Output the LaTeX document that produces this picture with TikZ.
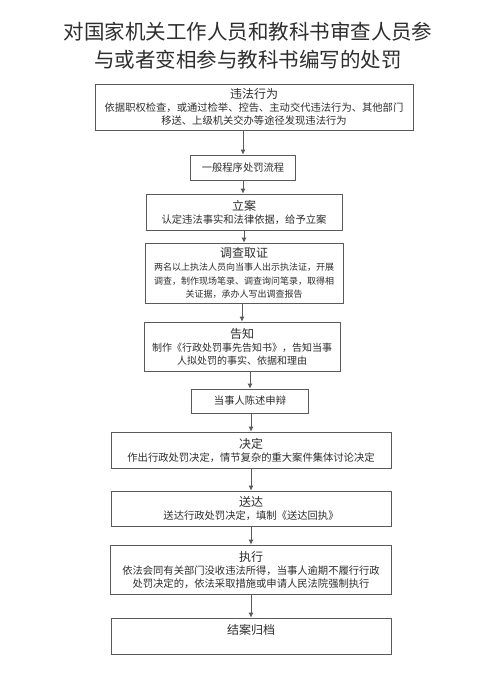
\documentclass[tikz,border=0pt]{standalone}
\usepackage{fontspec}
\setmainfont{Noto Sans CJK SC}
\usepackage{tikz}
\usetikzlibrary{arrows.meta,positioning}
\definecolor{linec}{HTML}{5A5A5A}
\definecolor{textc}{HTML}{2E2E2E}
\tikzset{
  >={Latex[length=5pt,width=5pt]},
  box/.style={draw=linec,line width=0.8pt,fill=white,inner sep=0pt,align=center,text=textc,font=\fontsize{10.3}{13}\selectfont},
  sbox/.style={box,font=\fontsize{9}{13.5}\selectfont},
  ttl/.style={align=center,text=textc,font=\fontsize{20.5}{28}\selectfont},
  arr/.style={->,line width=0.8pt,draw=linec},
}
\newcommand{\hd}[1]{{\fontsize{12}{13}\selectfont #1}}

\begin{document}
\begin{tikzpicture}[x=1pt,y=-1pt]
  \fill[white] (0,0) rectangle (494,675);
  \useasboundingbox (0,0) rectangle (494,675);
  \node[ttl] (title) at (248,46) {对国家机关工作人员和教科书审查人员参\\与或者变相参与教科书编写的处罚};
  % steps
  \node[box,minimum width=318,minimum height=46] (wf) at (254,107)
    {\hd{违法行为}\\依据职权检查，或通过检举、控告、主动交代违法行为、其他部门\\移送、上级机关交办等途径发现违法行为};
  \node[box,minimum width=105,minimum height=25] (yb) at (243,167.5) {一般程序处罚流程};
  \node[box,minimum width=196,minimum height=36] (la) at (244,212)
    {\hd{立案}\\认定违法事实和法律依据，给予立案};
  \node[sbox,minimum width=198,minimum height=60] (dc) at (244,273)
    {\hd{调查取证}\\两名以上执法人员向当事人出示执法证，开展\\调查，制作现场笔录、调查询问笔录，取得相\\关证据，承办人写出调查报告};
  \node[box,font=\fontsize{10}{13}\selectfont,minimum width=196,minimum height=49] (gz) at (242,346.5)
    {\hd{告知}\\制作《行政处罚事先告知书》，告知当事\\人拟处罚的事实、依据和理由};
  \node[box,minimum width=117,minimum height=24] (cs) at (250,401) {当事人陈述申辩};
  \node[box,minimum width=280,minimum height=36] (jd) at (251,450)
    {\hd{决定}\\作出行政处罚决定，情节复杂的重大案件集体讨论决定};
  \node[box,minimum width=280,minimum height=35] (sd) at (251,508.5)
    {\hd{送达}\\送达行政处罚决定，填制《送达回执》};
  \node[box,minimum width=281,minimum height=49] (zx) at (251,569.5)
    {\hd{执行}\\依法会同有关部门没收违法所得，当事人逾期不履行行政\\处罚决定的，依法采取措施或申请人民法院强制执行};
  \node[box,minimum width=280,minimum height=36] (ja) at (251,636) {\hd{结案归档}\\\mbox{}};
  % arrows
  \draw[arr] (yb.north |- wf.south) -- (yb.north);
  \draw[arr] (yb.south) -- (yb.south |- la.north);
  \draw[arr] (la.south) -- (la.south |- dc.north);
  \draw[arr] (gz.north |- dc.south) -- (gz.north);
  \draw[arr] (cs.north |- gz.south) -- (cs.north);
  \draw[arr] (jd.north |- cs.south) -- (jd.north);
  \draw[arr] (jd.south) -- (sd.north);
  \draw[arr] (sd.south) -- (zx.north);
  \draw[arr] (zx.south) -- (ja.north);
\end{tikzpicture}
\end{document}
